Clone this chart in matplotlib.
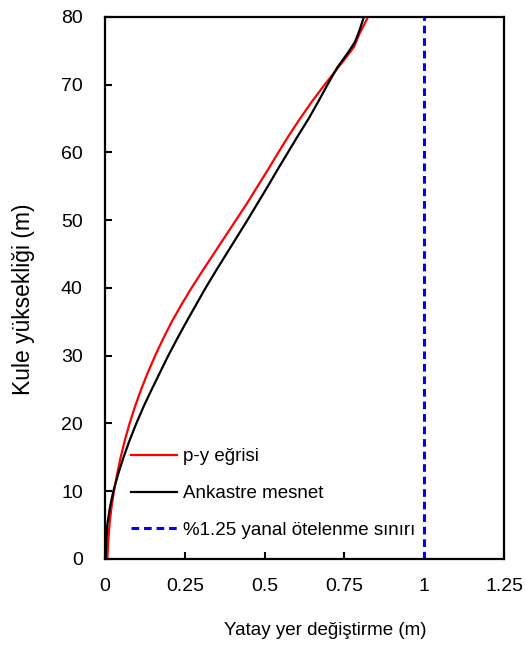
import numpy as np
import matplotlib
matplotlib.use('Agg')
import matplotlib.pyplot as plt

plt.rcParams['font.family'] = ['Liberation Sans', 'DejaVu Sans']

# p-y egrisi (kirmizi)
py_y = [0, 2.5, 5, 7.5, 10, 12.5, 15, 17.5, 20, 22.5, 25, 27.5, 30, 32.5, 35, 37.5, 40, 42.5, 45, 47.5,
        50, 52.5, 55, 57.5, 60, 62.5, 65, 67.5, 70, 72.5, 75, 75.6, 77.5, 80]
py_x = [0.0075, 0.010, 0.014, 0.020, 0.028, 0.038, 0.049, 0.062, 0.077, 0.094, 0.113, 0.134, 0.157, 0.182,
        0.209, 0.239, 0.271, 0.305, 0.340, 0.375, 0.410, 0.445, 0.478, 0.511, 0.543, 0.576, 0.611, 0.648,
        0.688, 0.730, 0.771, 0.780, 0.797, 0.824]

# Ankastre mesnet (siyah)
ank_y = [0, 2.5, 5, 7.5, 10, 12.5, 15, 17.5, 20, 22.5, 25, 27.5, 30, 32.5, 35, 37.5, 40, 42.5, 45, 47.5,
         50, 52.5, 55, 57.5, 60, 62.5, 65, 67.5, 70, 72.5, 75, 76.3, 78, 80]
ank_x = [0.002, 0.004, 0.007, 0.015, 0.026, 0.041, 0.058, 0.077, 0.098, 0.121, 0.146, 0.172, 0.198, 0.226,
         0.255, 0.285, 0.315, 0.347, 0.380, 0.413, 0.446, 0.478, 0.510, 0.541, 0.573, 0.605, 0.638, 0.668,
         0.697, 0.727, 0.765, 0.783, 0.797, 0.811]

sinir_x = 1.0
xticks = [0, 0.25, 0.5, 0.75, 1, 1.25]
xtick_labels = ['0', '0.25', '0.5', '0.75', '1', '1.25']

fig = plt.figure(figsize=(5.25, 6.46), dpi=100)
ax = fig.add_axes([0.2, 0.1347, 0.76, 0.839])

ax.plot(py_x, py_y, color='#ff0000', lw=1.6, label='p-y eğrisi')
ax.plot(ank_x, ank_y, color='black', lw=1.6, label='Ankastre mesnet')
ax.plot([sinir_x, sinir_x], [0, 80], color='#0000ff', lw=2.2, ls=(0, (2.5, 1.6)), label='%1.25 yanal ötelenme sınırı')

ax.set_xlim(0, 1.25)
ax.set_ylim(0, 80)
ax.set_xticks(xticks)
ax.set_xticklabels(xtick_labels)
ax.set_yticks(range(0, 81, 10))
ax.tick_params(direction='in', length=5, width=1.5, labelsize=14)
ax.tick_params(axis='x', pad=14)
ax.tick_params(axis='y', pad=16)
for s in ax.spines.values():
    s.set_linewidth(1.6)

ax.set_xlabel('Yatay yer değiştirme (m)', fontsize=13.5, labelpad=19)
ax.set_ylabel('Kule yüksekliği (m)', fontsize=16.5, labelpad=19)
ax.xaxis.label.set_x(0.553)
ax.yaxis.label.set_y(0.48)

ax.legend(loc='lower left', bbox_to_anchor=(0.065, 0.037), frameon=False, fontsize=13.5,
          borderpad=0, borderaxespad=0,
          handlelength=2.45, handletextpad=0.32, labelspacing=1.05)

plt.savefig('out.png', dpi=100)
